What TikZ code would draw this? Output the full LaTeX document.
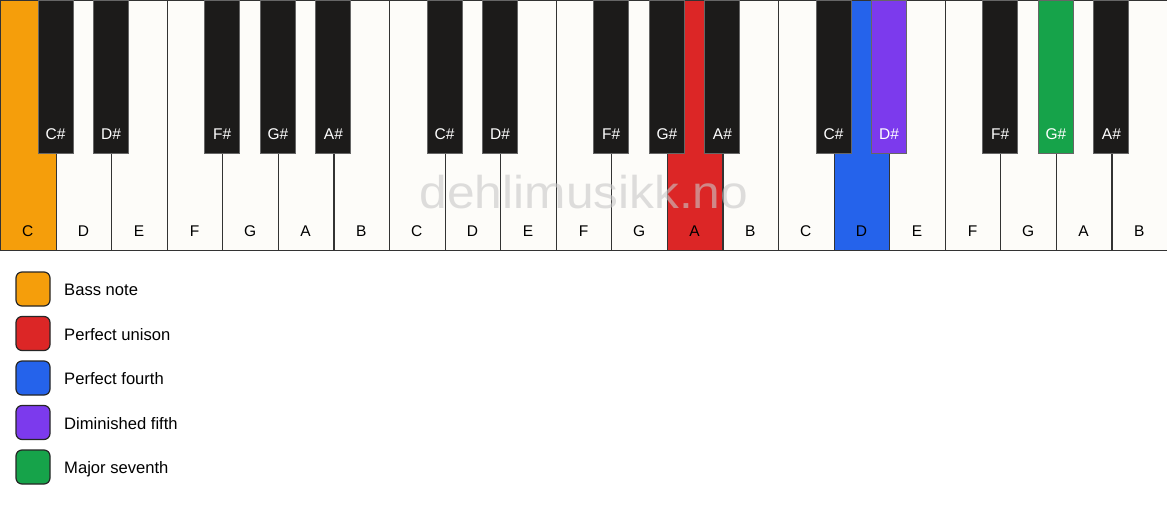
\documentclass[tikz,border=0pt]{standalone}
\usepackage{fontspec}
\setmainfont{Liberation Sans}
\definecolor{keywhite}{HTML}{FDFCF9}
\definecolor{keyblack}{HTML}{1C1B1A}
\definecolor{bassnote}{HTML}{F59E0B}
\definecolor{unison}{HTML}{DC2626}
\definecolor{fourth}{HTML}{2563EB}
\definecolor{dimfifth}{HTML}{7C3AED}
\definecolor{seventh}{HTML}{16A34A}
\definecolor{wmgray}{HTML}{C8C8C8}
\tikzset{
  whitekey/.style={draw=black!80, line width=1.2pt, fill=keywhite, minimum width=55.57pt, minimum height=250pt, anchor=north west, inner sep=0pt},
  blackkey/.style={draw=black!60, line width=1pt, fill=keyblack, minimum width=35pt, minimum height=153pt, anchor=north, inner sep=0pt},
  wlabel/.style={anchor=base, inner sep=0pt, font=\fontsize{15.5}{18}\selectfont, text=black},
  blabel/.style={anchor=base, inner sep=0pt, font=\fontsize{15.5}{18}\selectfont, text=white},
  swatch/.style={draw=black!85, line width=1.2pt, rounded corners=6pt, minimum size=34pt, inner sep=0pt},
  legendtext/.style={anchor=base west, inner sep=0pt, font=\fontsize{16.6}{19}\selectfont},
  % highlighted keys
  w0/.style={fill=bassnote}, w12/.style={fill=unison}, w15/.style={fill=fourth},
  b16/.style={fill=dimfifth}, b19/.style={fill=seventh},
}
\begin{document}
\begin{tikzpicture}[x=1pt, y=-1pt]
\useasboundingbox[fill=white] (0,0) rectangle (1167,506);
% white keys
\foreach \n [count=\i from 0] in {C,D,E,F,G,A,B,C,D,E,F,G,A,B,C,D,E,F,G,A,B} {
  \node[whitekey, w\i/.try] (w\i) at (\i*55.57,0) {};
  \node[wlabel] (lw\i) at (\i*55.57+27.79,236) {\n};
}
% watermark
\node[anchor=base, inner sep=0pt, text=wmgray, opacity=0.6, xscale=1.08,
  font=\fontsize{46}{50}\selectfont] (watermark) at (584,208) {dehlimusikk.no};
% black keys
\foreach \o in {0,1,2} {
  \foreach \j/\n in {1/C,2/D,4/F,5/G,6/A} {
    \pgfmathtruncatemacro\k{7*\o+\j}
    \node[blackkey, b\k/.try] (b\k) at (\k*55.57,0) {};
    \node[blabel] (lb\k) at (\k*55.57,139.3) {\n\#};
  }
}
% legend
\foreach \c/\t [count=\i from 0] in {bassnote/Bass note, unison/Perfect unison, fourth/Perfect fourth, dimfifth/Diminished fifth, seventh/Major seventh} {
  \node[swatch, fill=\c] (s\i) at (33,289+\i*44.5) {};
  \node[legendtext] (t\i) at (64,295.5+\i*44.5) {\t};
}
\end{tikzpicture}
\end{document}
